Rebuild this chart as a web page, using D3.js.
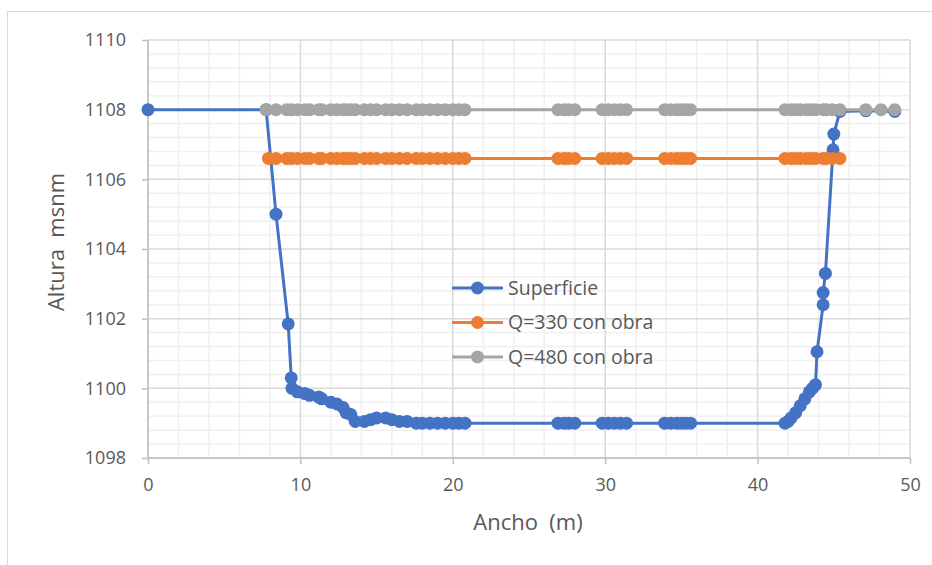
<!DOCTYPE html>
<html>
<head>
<meta charset="utf-8">
<script src="https://cdn.jsdelivr.net/npm/d3@7"></script>
<style>
body { margin: 0; background: #fff; }
</style>
</head>
<body>
<div class="chart"></div>
<script>
// series names and data (Ancho m, Altura msnm)
var series = ["Superficie", "Q=330 con obra", "Q=480 con obra"];
var color = ["#4472C4", "#ED7D31", "#A5A5A5"];

var sup_x = [0, 7.75, 8.4, 9.2, 9.4, 9.45, 9.8, 10.3, 10.6, 11.2, 11.4, 12.0, 12.4, 12.8, 13.0, 13.3, 13.6, 14.2, 14.6, 15.0, 15.6, 16.0, 16.5, 17.0, 17.6, 18.0, 18.5, 19.0, 19.5, 20.0, 20.4, 20.8,
             26.9, 27.3, 27.6, 28.0, 29.8, 30.2, 30.6, 31.0, 31.4, 33.9, 34.3, 34.7, 35.0, 35.3, 35.6,
             41.8, 42.0, 42.2, 42.5, 42.8, 43.1, 43.4, 43.6, 43.8, 43.9, 44.3, 44.3, 44.45, 44.95, 45.0, 45.4, 47.1, 49.0];
var sup_y = [1108, 1108, 1105, 1101.85, 1100.3, 1100.0, 1099.9, 1099.85, 1099.8, 1099.75, 1099.7, 1099.6, 1099.55, 1099.45, 1099.3, 1099.25, 1099.05, 1099.05, 1099.1, 1099.15, 1099.15, 1099.1, 1099.05, 1099.05, 1099.0, 1099.0, 1099.0, 1099.0, 1099.0, 1099.0, 1099.0, 1099.0,
             1099.0, 1099.0, 1099.0, 1099.0, 1099.0, 1099.0, 1099.0, 1099.0, 1099.0, 1099.0, 1099.0, 1099.0, 1099.0, 1099.0, 1099.0,
             1099.0, 1099.05, 1099.15, 1099.3, 1099.5, 1099.7, 1099.9, 1100.0, 1100.1, 1101.05, 1102.4, 1102.75, 1103.3, 1106.85, 1107.3, 1107.95, 1107.97, 1107.95];

var q330_x = [7.9, 8.4, 9.1, 9.4, 9.8, 10.3, 10.6, 11.2, 11.4, 12.0, 12.4, 12.8, 13.0, 13.3, 13.6, 14.2, 14.6, 15.0, 15.6, 16.0, 16.5, 17.0, 17.6, 18.0, 18.5, 19.0, 19.5, 20.0, 20.4, 20.8,
              26.9, 27.3, 27.6, 28.0, 29.8, 30.2, 30.6, 31.0, 31.4, 33.9, 34.3, 34.7, 35.0, 35.3, 35.6,
              41.8, 42.2, 42.5, 42.8, 43.2, 43.5, 43.8, 44.3, 44.5, 44.9, 45.4];
var q330_y = 1106.6;

var q480_x = [7.75, 8.4, 9.1, 9.4, 9.8, 10.3, 10.6, 11.2, 11.4, 12.0, 12.4, 12.8, 13.0, 13.3, 13.6, 14.2, 14.6, 15.0, 15.6, 16.0, 16.5, 17.0, 17.6, 18.0, 18.5, 19.0, 19.5, 20.0, 20.4, 20.8,
              26.9, 27.3, 27.6, 28.0, 29.8, 30.2, 30.6, 31.0, 31.4, 33.9, 34.3, 34.7, 35.0, 35.3, 35.6,
              41.8, 42.2, 42.5, 42.8, 43.2, 43.5, 43.8, 44.3, 44.5, 44.9, 45.4, 47.1, 48.1, 49.0];
var q480_y = 1108;

var x_ticks = [0, 10, 20, 30, 40, 50];
var y_ticks = [1098, 1100, 1102, 1104, 1106, 1108, 1110];

var font = "Open Sans, Liberation Sans, sans-serif";

var svg = d3.select(".chart")
            .append("svg")
            .attr("width", 932)
            .attr("height", 565);

// chart frame
svg.append("rect")
    .attr("x", 7.5)
    .attr("y", 11.5)
    .attr("width", 940)
    .attr("height", 570)
    .attr("fill", "none")
    .style("stroke", "#d9d9d9")
    .style("stroke-width", 1);

var x = d3.scaleLinear().domain([0, 50]).range([148, 910]);
var y = d3.scaleLinear().domain([1098, 1110]).range([458, 40]);

// minor grid
d3.range(0, 50.01, 2).forEach(function(v) {
    if (v % 10 == 0) return;
    svg.append("line")
        .attr("x1", x(v)).attr("x2", x(v))
        .attr("y1", y(1098)).attr("y2", y(1110))
        .style("stroke", "#f0f0f0").style("stroke-width", 1.5);
});
d3.range(1098, 1110.01, 0.4).forEach(function(v) {
    if (Math.abs(v - Math.round(v / 2) * 2) < 0.01) return;
    svg.append("line")
        .attr("x1", x(0)).attr("x2", x(50))
        .attr("y1", y(v)).attr("y2", y(v))
        .style("stroke", "#f0f0f0").style("stroke-width", 1.5);
});

// major grid
x_ticks.forEach(function(v) {
    svg.append("line")
        .attr("x1", x(v)).attr("x2", x(v))
        .attr("y1", y(1098)).attr("y2", y(1110))
        .style("stroke", "#d9d9d9").style("stroke-width", 1.5);
});
y_ticks.forEach(function(v) {
    svg.append("line")
        .attr("x1", x(0)).attr("x2", x(50))
        .attr("y1", y(v)).attr("y2", y(v))
        .style("stroke", "#d9d9d9").style("stroke-width", 1.5);
});

// axes
var xAxis = svg.append("g")
    .attr("transform", "translate(0," + y(1098) + ")")
    .call(d3.axisBottom(x).tickValues(x_ticks).tickSize(6).tickPadding(14).tickFormat(d3.format("d")));
var yAxis = svg.append("g")
    .attr("transform", "translate(" + x(0) + ",0)")
    .call(d3.axisLeft(y).tickValues(y_ticks).tickSize(6).tickPadding(16).tickFormat(d3.format("d")));
[xAxis, yAxis].forEach(function(a) {
    a.select(".domain").style("stroke", "#bfbfbf").style("stroke-width", 1.5);
    a.selectAll(".tick line").style("stroke", "#bfbfbf").style("stroke-width", 1.5);
    a.selectAll("text")
        .style("font-size", "18px")
        .attr("font-family", font)
        .attr("fill", "#595959");
});
xAxis.select(".domain").attr("d", "M" + x(0) + ",0H" + x(50));
yAxis.select(".domain").attr("d", "M0," + y(1098) + "V" + y(1110));

// axis titles
svg.append("text")
    .attr("x", 528)
    .attr("y", 530)
    .attr("text-anchor", "middle")
    .text("Ancho  (m)")
    .style("white-space", "pre")
    .style("font-size", "22px")
    .attr("font-family", font)
    .attr("fill", "#595959");
svg.append("text")
    .attr("transform", "translate(64,242) rotate(-90)")
    .attr("text-anchor", "middle")
    .text("Altura  msnm")
    .style("white-space", "pre")
    .style("font-size", "22px")
    .attr("font-family", font)
    .attr("fill", "#595959");

// series
var data = [
    sup_x.map(function(d, i) { return [d, sup_y[i]]; }),
    q330_x.map(function(d) { return [d, q330_y]; }),
    q480_x.map(function(d) { return [d, q480_y]; })
];

var line = d3.line()
    .x(function(d) { return x(d[0]); })
    .y(function(d) { return y(d[1]); });

for (var i = 0; i < 3; i++) {
    svg.append("path")
        .datum(data[i])
        .attr("d", line)
        .attr("fill", "none")
        .style("stroke", color[i])
        .style("stroke-width", 3);

    svg.append("g")
        .selectAll("circle")
        .data(data[i])
        .enter()
        .append("circle")
        .attr("cx", function(d) { return x(d[0]); })
        .attr("cy", function(d) { return y(d[1]); })
        .attr("r", 6.5)
        .style("fill", color[i]);
}

// legend
for (var i = 0; i < 3; i++) {
    var ly = 288 + i * 34.5;
    svg.append("line")
        .attr("x1", 452).attr("x2", 503)
        .attr("y1", ly).attr("y2", ly)
        .style("stroke", color[i])
        .style("stroke-width", 3);
    svg.append("circle")
        .attr("cx", 477.5).attr("cy", ly)
        .attr("r", 6.5)
        .style("fill", color[i]);
    svg.append("text")
        .attr("x", 508)
        .attr("y", ly + 6.5)
        .text(series[i])
        .style("font-size", "19.5px")
        .attr("font-family", font)
        .attr("fill", "#595959");
}
</script>
</body>
</html>
